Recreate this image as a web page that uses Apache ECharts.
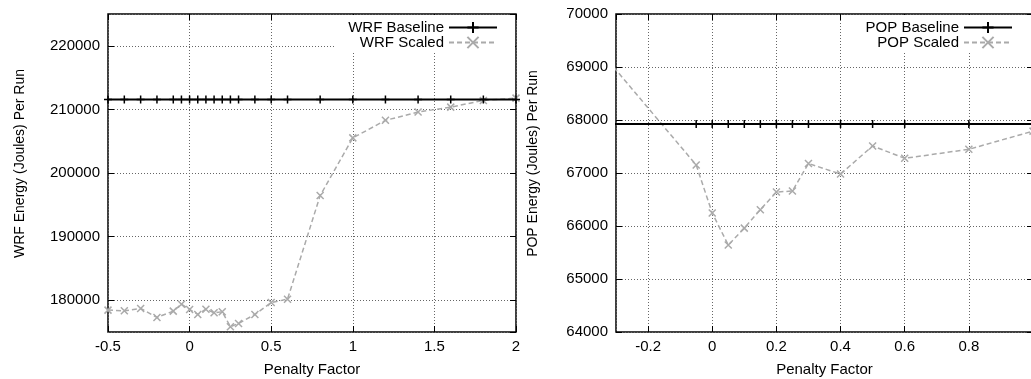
<!DOCTYPE html>
<html>
<head>
<meta charset="utf-8">
<script src="https://cdn.jsdelivr.net/npm/echarts@6/dist/echarts.min.js"></script>
<style>
  html, body { margin: 0; padding: 0; background: #fff; }
  #chart { width: 1031px; height: 379px; }
</style>
</head>
<body>
<div id="chart"></div>
<script>
// WRF panel
const wrfX = [-0.5, -0.4, -0.3, -0.2, -0.1, -0.05, 0, 0.05, 0.1, 0.15, 0.2, 0.25, 0.3, 0.4, 0.5, 0.6, 0.8, 1.0, 1.2, 1.4, 1.6, 1.8, 2.0];
const wrfBaseline = [211550, 211550, 211550, 211550, 211550, 211550, 211550, 211550, 211550, 211550, 211550, 211550, 211550, 211550, 211550, 211550, 211550, 211550, 211550, 211550, 211550, 211550, 211550];
const wrfScaled = [178440, 178330, 178700, 177290, 178280, 179370, 178540, 177760, 178590, 178020, 178180, 175830, 176350, 177760, 179630, 180160, 196450, 205520, 208280, 209580, 210360, 211410, 211770];

// POP panel
const popX = [-0.5, -0.05, 0, 0.05, 0.1, 0.15, 0.2, 0.25, 0.3, 0.4, 0.5, 0.6, 0.8, 1.0];
const popBaseline = [67925, 67925, 67925, 67925, 67925, 67925, 67925, 67925, 67925, 67925, 67925, 67925, 67925, 67925];
const popScaled = [70380, 67151, 66244, 65640, 65960, 66308, 66640, 66660, 67180, 66980, 67510, 67277, 67447, 67790];

const FONT = "'Liberation Sans', Arial, Helvetica, sans-serif";
const PLUS = 'path://M0,5L10,5M5,0L5,10';
const CROSS = 'path://M0,0L10,10M10,0L0,10';

const pairs = (xs, ys) => xs.map((x, i) => [x, ys[i]]);
const plain = v => String(v);

const gridLine = { show: true, lineStyle: { color: '#666', width: 1, type: [1, 2] } };
const tick = { show: true, inside: true, length: 6, lineStyle: { color: '#000', width: 1 } };
const noLine = { show: false, onZero: false };
const label = { color: '#000', fontSize: 15, fontFamily: FONT, formatter: plain };

function mainX(gridIndex, min, max, step, hideEnds) {
    return {
        type: 'value', gridIndex: gridIndex, min: min, max: max,
        minInterval: step, maxInterval: step,
        name: 'Penalty Factor', nameLocation: 'middle', nameGap: 30,
        nameTextStyle: { color: '#000', fontSize: 15, fontFamily: FONT },
        axisLine: noLine, axisTick: tick,
        axisLabel: Object.assign({ margin: 7, showMinLabel: !hideEnds, showMaxLabel: !hideEnds }, label),
        splitLine: gridLine
    };
}

function mirrorX(gridIndex, min, max, step) {
    return {
        type: 'value', gridIndex: gridIndex, position: 'top', min: min, max: max,
        minInterval: step, maxInterval: step,
        axisLine: noLine, axisTick: tick, axisLabel: { show: false }, splitLine: { show: false }
    };
}

function mainY(gridIndex, min, max, step, name, gap, hideEnds) {
    return {
        type: 'value', gridIndex: gridIndex, min: min, max: max,
        minInterval: step, maxInterval: step,
        name: name, nameLocation: 'middle', nameGap: gap,
        nameTextStyle: { color: '#000', fontSize: 14, fontFamily: FONT, padding: [0, 0, 0, 19] },
        axisLine: noLine, axisTick: tick,
        axisLabel: Object.assign({ margin: 8, showMinLabel: !hideEnds, showMaxLabel: !hideEnds }, label),
        splitLine: gridLine
    };
}

function mirrorY(gridIndex, min, max, step) {
    return {
        type: 'value', gridIndex: gridIndex, position: 'right', min: min, max: max,
        minInterval: step, maxInterval: step,
        axisLine: noLine, axisTick: tick, axisLabel: { show: false }, splitLine: { show: false }
    };
}

function baseline(name, xIdx, yIdx, data) {
    return {
        name: name, type: 'line', xAxisIndex: xIdx, yAxisIndex: yIdx, data: data,
        symbol: PLUS, symbolSize: 8, z: 3,
        lineStyle: { color: '#000', width: 2, type: 'solid' },
        itemStyle: { color: '#000', borderColor: '#000', borderWidth: 1.5 }
    };
}

function scaled(name, xIdx, yIdx, data) {
    return {
        name: name, type: 'line', xAxisIndex: xIdx, yAxisIndex: yIdx, data: data,
        symbol: CROSS, symbolSize: 7, z: 2,
        lineStyle: { color: '#aaa', width: 1.5, type: [5, 3] },
        itemStyle: { color: '#aaa', borderColor: '#aaa', borderWidth: 1.5 }
    };
}

function legend(names, right, padding) {
    return {
        data: names, orient: 'vertical', align: 'right', top: 15, right: right,
        padding: padding, itemGap: 0, itemWidth: 48, itemHeight: 14,
        backgroundColor: '#fff', selectedMode: false,
        textStyle: { color: '#000', fontSize: 15, fontFamily: FONT }
    };
}

const myChart = echarts.init(document.getElementById('chart'), null, { renderer: 'canvas' });

const option = {
    animation: false,
    backgroundColor: '#fff',
    grid: [
        { left: 108, top: 14, width: 408, height: 318, outerBoundsMode: 'none', show: true, borderColor: '#000', borderWidth: 1.5, backgroundColor: 'transparent' },
        { left: 616, top: 14, width: 417, height: 318, outerBoundsMode: 'none', show: true, borderColor: '#000', borderWidth: 1.5, backgroundColor: 'transparent' }
    ],
    xAxis: [
        mainX(0, -0.5, 2, 0.5, false),
        mirrorX(0, -0.5, 2, 0.5),
        mainX(1, -0.3, 1.0, 0.2, true),
        mirrorX(1, -0.3, 1.0, 0.2)
    ],
    yAxis: [
        mainY(0, 175000, 225000, 10000, 'WRF Energy (Joules) Per Run', 81, true),
        mirrorY(0, 175000, 225000, 10000),
        mainY(1, 64000, 70000, 1000, 'POP Energy (Joules) Per Run', 76, false),
        mirrorY(1, 64000, 70000, 1000)
    ],
    legend: [
        legend(['WRF Baseline', 'WRF Scaled'], 516, [5, 17, 3, 13]),
        legend(['POP Baseline', 'POP Scaled'], 0, [5, 18, 3, 13])
    ],
    series: [
        baseline('WRF Baseline', 0, 0, pairs(wrfX, wrfBaseline)),
        scaled('WRF Scaled', 0, 0, pairs(wrfX, wrfScaled)),
        baseline('POP Baseline', 2, 2, pairs(popX, popBaseline)),
        scaled('POP Scaled', 2, 2, pairs(popX, popScaled))
    ]
};

option && myChart.setOption(option);
</script>
</body>
</html>
